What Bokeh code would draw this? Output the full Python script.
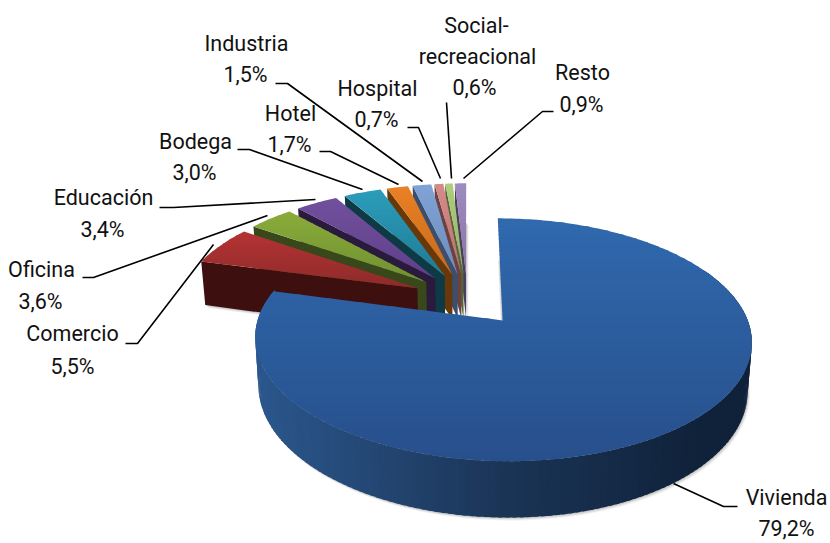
import math
from bokeh.plotting import figure
from bokeh.models import Range1d, ColumnDataSource
from bokeh.core.properties import value
from bokeh.embed import file_html
from bokeh.resources import INLINE

categories = ["Vivienda", "Comercio", "Oficina", "Educación", "Bodega", "Hotel", "Industria", "Hospital", "Social-recreacional", "Resto"]
shares = [79.2, 5.5, 3.6, 3.4, 3.0, 1.7, 1.5, 0.7, 0.6, 0.9]
share_labels = ["79,2%", "5,5%", "3,6%", "3,4%", "3,0%", "1,7%", "1,5%", "0,7%", "0,6%", "0,9%"]

# style: light top colour, darker top colour, wall colour
styles = [("#3069ae", "#274f8b", None),
          ("#b33333", "#8d2a2a", "#3e0f0f"),
          ("#89ab3a", "#6f8f30", "#39481a"),
          ("#70509c", "#5f3f88", "#2a1b3e"),
          ("#2b9cba", "#1e7a95", "#0d3a45"),
          ("#e88025", "#c9691a", "#693808"),
          ("#7fa3d4", "#6a8cbd", "#3c4e6c"),
          ("#d58a88", "#b87270", "#6d4140"),
          ("#adcc7c", "#93b166", "#566638"),
          ("#9f8ac0", "#8873a8", "#4a3f5a")]

CX, CY, RX, RY, K, D, H, BS = 467.0, 298.5, 238.0, 111.6, 0.155, 0.235, 46.0, 0.985
total = sum(shares)


def top(u, v):
    w = 1 - K * v
    return CX + RX * u / w, CY + RY * v / w


def bot(u, v):
    w = 1 - K * v
    return CX + BS * RX * u / w, CY + (RY * v + H) / w


def lerp(c1, c2, t):
    t = max(0.0, min(1.0, t))
    a = [int(c1[i:i + 2], 16) for i in (1, 3, 5)]
    b = [int(c2[i:i + 2], 16) for i in (1, 3, 5)]
    return "#%02x%02x%02x" % tuple(round(a[i] + (b[i] - a[i]) * t) for i in range(3))


def clip(poly, y0, y1):
    def half(pts, keep, ycut):
        out = []
        for i, p in enumerate(pts):
            q = pts[(i + 1) % len(pts)]
            kp, kq = keep(p[1]), keep(q[1])
            if kp:
                out.append(p)
            if kp != kq:
                t = (ycut - p[1]) / (q[1] - p[1])
                out.append((p[0] + (q[0] - p[0]) * t, ycut))
        return out
    r = half(poly, lambda y: y >= y0, y0)
    return half(r, lambda y: y <= y1, y1) if r else r


xs, ys, fills, alphas = [], [], [], []


def add(poly, color, alpha=1.0):
    xs.append([p[0] for p in poly])
    ys.append([p[1] for p in poly])
    fills.append(color)
    alphas.append(alpha)


def wedge(a0, a1, fn, ax, ay, n):
    pts = [fn(ax, ay)]
    for i in range(n + 1):
        a = a0 + (a1 - a0) * i / n
        pts.append(fn(ax + math.sin(a), ay - math.cos(a)))
    return pts


angles = []
acc = 0.0
for s in shares:
    angles.append((acc, acc + s / total * 2 * math.pi))
    acc += s / total * 2 * math.pi


def draw_slice(i):
    a0, a1 = angles[i]
    mid = (a0 + a1) / 2
    ax, ay = D * math.sin(mid), -D * math.cos(mid)
    c1, c2, wall = styles[i]
    n = max(6, int((a1 - a0) * 40))
    for off, al in ((1.0, 0.16), (2.0, 0.12), (3.0, 0.08)):
        sh = wedge(a0, a1, bot, ax, ay, n)
        add([(p[0] + off * 0.8, p[1] + off) for p in sh], "#555555", al)
    if i == 0:
        for j in range(n):
            t0 = a0 + (a1 - a0) * j / n
            t1 = a0 + (a1 - a0) * (j + 1.6) / n
            if not (math.pi * 0.35 < t0 < math.pi * 1.65):
                continue
            p0 = (ax + math.sin(t0), ay - math.cos(t0))
            p1 = (ax + math.sin(t1), ay - math.cos(t1))
            q = [top(*p0), top(*p1), bot(*p1), bot(*p0)]
            x = (q[0][0] - 256) / (752 - 256)
            col = lerp("#2b578d", "#1b3557", x / 0.5) if x < 0.5 else lerp("#1b3557", "#10223a", (x - 0.5) / 0.4)
            add(q, col)
    else:
        u, v = math.sin(a0), -math.cos(a0)
        p = (ax + u, ay + v)
        add([top(ax, ay), top(*p), bot(*p), bot(ax, ay)], wall)
    poly = wedge(a0, a1, top, ax, ay, max(8, int((a1 - a0) * 60)))
    ymin, ymax = min(p[1] for p in poly), max(p[1] for p in poly)
    step = 4.0
    y = ymin
    while y < ymax:
        band = clip(poly, y, y + step + 0.8)
        if len(band) >= 3:
            add(band, lerp(c1, c2, (y - ymin) / (ymax - ymin)))
        y += step


for i in range(len(shares) - 1, -1, -1):
    draw_slice(i)

p = figure(width=830, height=543, x_range=Range1d(0, 830), y_range=Range1d(543, 0),
           output_backend="svg", toolbar_location=None, min_border=0,
           background_fill_color="white", border_fill_color="white", outline_line_color=None)
p.axis.visible = False
p.grid.visible = False

src = ColumnDataSource(dict(xs=xs, ys=ys, c=fills, a=alphas))
p.patches("xs", "ys", source=src, fill_color="c", fill_alpha="a", line_color=None)

leaders = [
    ([275, 287, 422], [83, 83, 181]),
    ([407, 418, 440], [127, 127, 178]),
    ([319, 330, 398], [151, 151, 184]),
    ([237, 249, 362], [149, 149, 189]),
    ([159, 173, 315], [207, 207, 199]),
    ([82, 93, 267], [277, 277, 215]),
    ([125, 137, 213], [343, 343, 244]),
    ([446, 451], [102, 178]),
    ([553, 542, 463], [111, 111, 178]),
    ([673, 723, 737], [483, 506, 506]),
]
p.multi_line([l[0] for l in leaders], [l[1] for l in leaders], line_color="black", line_width=1.6)

label_lines = [
    ("Industria", 246, 43), (share_labels[6], 245, 74),
    ("Hospital", 377, 88), (share_labels[7], 376, 119),
    ("Hotel", 290, 113), (share_labels[5], 289, 144),
    ("Bodega", 195, 141), (share_labels[4], 194, 172),
    ("Educación", 103, 197), (share_labels[3], 102, 229),
    ("Oficina", 41, 269), (share_labels[2], 40, 301),
    ("Comercio", 72, 333), (share_labels[1], 72, 366),
    ("Social-", 476, 25), ("recreacional", 477, 56), (share_labels[8], 474, 87),
    ("Resto", 582, 72), (share_labels[9], 581, 104),
    ("Vivienda", 786, 497), (share_labels[0], 786, 528),
]
p.text([l[1] for l in label_lines], [l[2] for l in label_lines], text=[l[0] for l in label_lines],
       text_font=value("Roboto"), text_font_size="21.5px", text_color="#111111",
       text_align="center", text_baseline="middle")

open("out.html", "w").write(file_html(p, INLINE))
